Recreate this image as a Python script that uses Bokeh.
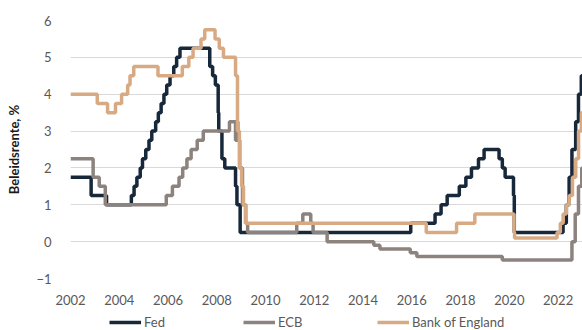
from datetime import date

from bokeh.embed import file_html
from bokeh.layouts import column
from bokeh.models import ColumnDataSource, FixedTicker, Legend, LegendItem, Range1d
from bokeh.plotting import figure
from bokeh.resources import INLINE

# Policy rates (%): each entry is the date a new rate took effect
fed_dates = [
    "2002-01-01", "2002-11-06", "2003-06-25", "2004-06-30", "2004-08-10", "2004-09-21",
    "2004-11-10", "2004-12-14", "2005-02-02", "2005-03-22", "2005-05-03", "2005-06-30",
    "2005-08-09", "2005-09-20", "2005-11-01", "2005-12-13", "2006-01-31", "2006-03-28",
    "2006-05-10", "2006-06-29", "2007-09-18", "2007-10-31", "2007-12-11", "2008-01-22",
    "2008-01-30", "2008-03-18", "2008-04-30", "2008-10-08", "2008-10-29", "2008-12-16",
    "2015-12-16", "2016-12-14", "2017-03-15", "2017-06-14", "2017-12-13", "2018-03-21",
    "2018-06-13", "2018-09-26", "2018-12-19", "2019-07-31", "2019-09-18", "2019-10-30",
    "2020-03-03", "2020-03-15", "2022-03-16", "2022-05-04", "2022-06-15", "2022-07-27",
    "2022-09-21", "2022-11-02", "2022-12-14", "2023-01-31",
]
fed_rates = [
    1.75, 1.25, 1.00, 1.25, 1.50, 1.75,
    2.00, 2.25, 2.50, 2.75, 3.00, 3.25,
    3.50, 3.75, 4.00, 4.25, 4.50, 4.75,
    5.00, 5.25, 4.75, 4.50, 4.25, 3.50,
    3.00, 2.25, 2.00, 1.50, 1.00, 0.25,
    0.50, 0.75, 1.00, 1.25, 1.50, 1.75,
    2.00, 2.25, 2.50, 2.25, 2.00, 1.75,
    1.25, 0.25, 0.50, 1.00, 1.75, 2.50,
    3.25, 4.00, 4.50, 4.50,
]

ecb_dates = [
    "2002-01-01", "2002-12-06", "2003-03-07", "2003-06-06", "2005-12-06", "2006-03-08",
    "2006-06-15", "2006-08-09", "2006-10-11", "2006-12-13", "2007-03-14", "2007-06-13",
    "2008-07-09", "2008-10-08", "2008-10-15", "2008-11-12", "2008-12-10", "2009-01-21",
    "2009-03-11", "2009-04-08", "2011-04-13", "2011-07-13", "2011-11-09", "2011-12-14",
    "2012-07-11", "2014-06-11", "2014-09-10", "2015-12-09", "2016-03-16", "2019-09-18",
    "2022-07-27", "2022-09-14", "2022-11-02", "2022-12-21", "2023-01-31",
]
ecb_rates = [
    2.25, 1.75, 1.50, 1.00, 1.25, 1.50,
    1.75, 2.00, 2.25, 2.50, 2.75, 3.00,
    3.25, 2.75, 3.25, 2.75, 2.00, 1.00,
    0.50, 0.25, 0.50, 0.75, 0.50, 0.25,
    0.00, -0.10, -0.20, -0.30, -0.40, -0.50,
    0.00, 0.75, 1.50, 2.00, 2.00,
]

boe_dates = [
    "2002-01-01", "2003-02-06", "2003-07-10", "2003-11-06", "2004-02-05", "2004-05-06",
    "2004-06-10", "2004-08-05", "2005-08-04", "2006-08-03", "2006-11-09", "2007-01-11",
    "2007-05-10", "2007-07-05", "2007-12-06", "2008-02-07", "2008-04-10", "2008-10-08",
    "2008-11-06", "2008-12-04", "2009-01-08", "2009-02-05", "2009-03-05", "2016-08-04",
    "2017-11-02", "2018-08-02", "2020-03-11", "2020-03-19", "2021-12-16", "2022-02-03",
    "2022-03-17", "2022-05-05", "2022-06-16", "2022-08-04", "2022-09-22", "2022-11-03",
    "2022-12-15", "2023-01-31",
]
boe_rates = [
    4.00, 3.75, 3.50, 3.75, 4.00, 4.25,
    4.50, 4.75, 4.50, 4.75, 5.00, 5.25,
    5.50, 5.75, 5.50, 5.25, 5.00, 4.50,
    3.00, 2.00, 1.50, 1.00, 0.50, 0.25,
    0.50, 0.75, 0.25, 0.10, 0.25, 0.50,
    0.75, 1.00, 1.25, 1.75, 2.25, 3.00,
    3.50, 3.50,
]

series_names = ["Fed", "ECB", "Bank of England"]
series_colors = ["#17283a", "#8c827e", "#d8aa84"]
year_ticks = list(range(2002, 2024, 2))
rate_ticks = list(range(-1, 7))

FONT = "Lato"
TEXT_COLOR = "#595959"
LINE_WIDTH = 3.5


def decimal_year(s):
    y, m, d = (int(part) for part in s.split("-"))
    return y + (date(y, m, d) - date(y, 1, 1)).days / 365.25


sources = [
    ColumnDataSource(dict(x=[decimal_year(d) for d in dates], y=rates))
    for dates, rates in [(fed_dates, fed_rates), (ecb_dates, ecb_rates), (boe_dates, boe_rates)]
]

# main chart
p = figure(
    width=582, height=308,
    x_range=Range1d(2002, 2023.0), y_range=Range1d(-1, 6),
    output_backend="svg", toolbar_location=None,
    min_border_left=70, min_border_right=0, min_border_top=20, min_border_bottom=30,
)
p.outline_line_color = None
p.background_fill_color = "white"
p.border_fill_color = "white"

for color, src in zip(series_colors, sources):
    p.step("x", "y", source=src, mode="after", line_color=color, line_width=LINE_WIDTH)

p.xaxis.ticker = FixedTicker(ticks=year_ticks)
p.yaxis.ticker = FixedTicker(ticks=rate_ticks)
for ax in (p.xaxis[0], p.yaxis[0]):
    ax.axis_line_color = None
    ax.major_tick_line_color = None
    ax.minor_tick_line_color = None
    ax.major_label_text_font = FONT
    ax.major_label_text_font_size = "13px"
    ax.major_label_text_color = TEXT_COLOR
p.xaxis.major_label_standoff = 10
p.yaxis.major_label_standoff = 13
p.yaxis.axis_label = "Beleidsrente, %"
p.yaxis.axis_label_text_font = FONT
p.yaxis.axis_label_text_font_size = "13px"
p.yaxis.axis_label_text_font_style = "bold"
p.yaxis.axis_label_text_color = "#1a1a1a"
p.yaxis.axis_label_standoff = 11

p.xgrid.grid_line_color = None
p.ygrid.grid_line_color = "#d9d9d9"
p.ygrid.grid_line_width = 1

# legend strip under the chart; its lines reuse the series data, which lies
# outside this strip's ranges, so only the legend entries show
leg = figure(
    width=582, height=22, x_range=Range1d(0, 1), y_range=Range1d(0, 1),
    output_backend="svg", toolbar_location=None,
    x_axis_type=None, y_axis_type=None,
    min_border_left=0, min_border_right=0, min_border_top=0, min_border_bottom=0,
)
leg.outline_line_color = None
leg.grid.visible = False

items = []
for name, color, src in zip(series_names, series_colors, sources):
    r = leg.line("x", "y", source=src, line_color=color, line_width=LINE_WIDTH)
    items.append(LegendItem(label=name, renderers=[r]))

legend = Legend(
    items=items, orientation="horizontal", location=(39, 0),
    glyph_width=32, glyph_height=14, label_height=14, label_width=99,
    label_standoff=3, spacing=0, padding=0, margin=0,
    label_text_font=FONT, label_text_font_size="13px", label_text_color=TEXT_COLOR,
    background_fill_alpha=0, border_line_color=None,
)
leg.add_layout(legend, "center")

layout = column(p, leg, spacing=0)
open("out.html", "w").write(file_html(layout, INLINE))
